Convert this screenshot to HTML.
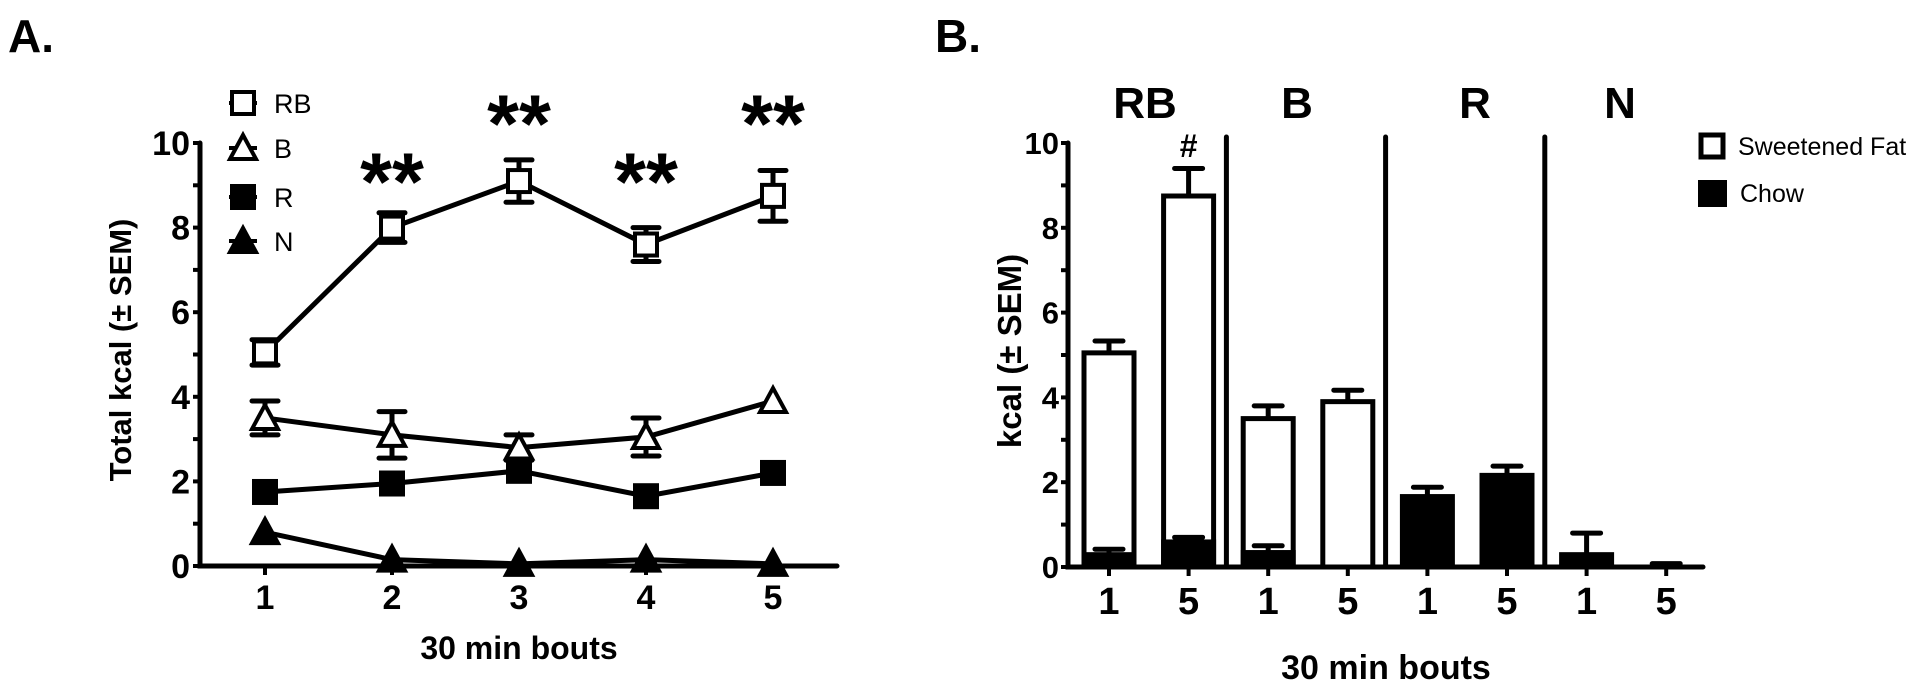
<!DOCTYPE html>
<html><head><meta charset="utf-8"><style>
html,body{margin:0;padding:0;background:#fff;width:1920px;height:690px;overflow:hidden}
svg{display:block}
text{font-family:"Liberation Sans",Arial,sans-serif;fill:#000}
</style></head><body>
<svg id="fig" width="1920" height="690" viewBox="0 0 1920 690">
<g id="panelA"></g>
<g id="panelB"></g>
</svg>
<script>
// ---------- Panel A data ----------
const boutsA = [1, 2, 3, 4, 5];
const rbMean = [5.05, 8.0, 9.1, 7.6, 8.75];
const rbErr  = [0.3, 0.35, 0.5, 0.4, 0.6];
const bMean  = [3.5, 3.1, 2.8, 3.05, 3.9];
const bErr   = [0.4, 0.55, 0.3, 0.45, 0];
const rMean  = [1.75, 1.95, 2.25, 1.65, 2.2];
const rErr   = [0, 0, 0, 0, 0];
const nMean  = [0.8, 0.15, 0.05, 0.15, 0.05];
const nErr   = [0, 0, 0, 0, 0];
const yTicksA = [0, 2, 4, 6, 8, 10];
const starBouts = [2, 3, 4, 5];
const starLevel = [0, 1, 0, 1];
// ---------- Panel B data ----------
const barLabels = ["1", "5", "1", "5", "1", "5", "1", "5"];
const groupNames = ["RB", "B", "R", "N"];
const fatTotal = [5.05, 8.75, 3.5, 3.9, 0, 0, 0, 0];
const fatErr   = [0.28, 0.65, 0.3, 0.27, 0, 0, 0, 0];
const chowVal  = [0.35, 0.65, 0.4, 0, 1.72, 2.22, 0.35, 0.05];
const chowErr  = [0.07, 0.05, 0.1, 0, 0.16, 0.16, 0.45, 0.03];
const yTicksB = [0, 2, 4, 6, 8, 10];

const NS = "http://www.w3.org/2000/svg";
function mk(tag, attrs, parent, txt) {
  const e = document.createElementNS(NS, tag);
  for (const k in attrs) e.setAttribute(k, attrs[k]);
  if (txt !== undefined) e.textContent = txt;
  parent.appendChild(e);
  return e;
}

// ===== Panel A =====
const A = document.getElementById('panelA');
const axA = {x0: 200, x1: 837, y0: 566, y10: 143};
const xA = b => 265 + (b - 1) * 127;
const yA = v => axA.y0 - v * (axA.y0 - axA.y10) / 10;

let t = mk('text', {x: 8, y: 52, 'font-size': 46, 'font-weight': 'bold'}, A, 'A.');



let ax = mk('path', {d: `M${axA.x0},${yA(10)} V${axA.y0} H${axA.x1}`, stroke: '#000', 'stroke-width': 5, fill: 'none', 'stroke-linecap': 'round'}, A);


for (let v = 0; v <= 10; v++) {
  const tk = mk('line', {x1: axA.x0 - 7, x2: axA.x0, y1: yA(v), y2: yA(v), stroke: '#000', 'stroke-width': 4}, A);
  
  
}
yTicksA.forEach(v => {
  const l = mk('text', {x: axA.x0 - 10, y: yA(v) + 12, 'font-size': 34, 'font-weight': 'bold', 'text-anchor': 'end'}, A, String(v));
  
  
});
boutsA.forEach(b => {
  const tk = mk('line', {x1: xA(b), x2: xA(b), y1: axA.y0, y2: axA.y0 + 9, stroke: '#000', 'stroke-width': 4}, A);
  
  
  const l = mk('text', {x: xA(b), y: 609, 'font-size': 34, 'font-weight': 'bold', 'text-anchor': 'middle'}, A, String(b));
  
  
});
t = mk('text', {x: 519, y: 659, 'font-size': 32, 'font-weight': 'bold', 'text-anchor': 'middle'}, A, '30 min bouts');


t = mk('text', {x: 0, y: 0, 'font-size': 31, 'font-weight': 'bold', 'text-anchor': 'middle', transform: 'translate(131,350) rotate(-90)'}, A, 'Total kcal (± SEM)');



function marker(kind, cx, cy, g) {
  const s = 11;
  if (kind === 'sq-open' || kind === 'sq-fill')
    return mk('rect', {x: cx - s, y: cy - s, width: 2 * s, height: 2 * s, fill: kind === 'sq-open' ? '#fff' : '#000', stroke: '#000', 'stroke-width': 4}, g);
  const h = 13;
  return mk('polygon', {points: `${cx},${cy - h} ${cx - h},${cy + h - 2} ${cx + h},${cy + h - 2}`, fill: kind === 'tri-open' ? '#fff' : '#000', stroke: '#000', 'stroke-width': 4, 'stroke-linejoin': 'miter'}, g);
}
const seriesA = [
  {name: 'rb', mean: rbMean, err: rbErr, kind: 'sq-open'},
  {name: 'b', mean: bMean, err: bErr, kind: 'tri-open'},
  {name: 'r', mean: rMean, err: rErr, kind: 'sq-fill'},
  {name: 'n', mean: nMean, err: nErr, kind: 'tri-fill'}
];
seriesA.slice().reverse().forEach(s => {
  const g = mk('g', {}, A);
  
  
  const d = boutsA.map((b, i) => (i ? 'L' : 'M') + xA(b) + ',' + yA(s.mean[i])).join(' ');
  mk('path', {d, stroke: '#000', 'stroke-width': 5, fill: 'none'}, g);
  boutsA.forEach((b, i) => {
    if (s.err[i] > 0) {
      const eb = mk('path', {d: `M${xA(b)},${yA(s.mean[i] - s.err[i])} V${yA(s.mean[i] + s.err[i])} M${xA(b) - 13},${yA(s.mean[i] + s.err[i])} h26 M${xA(b) - 13},${yA(s.mean[i] - s.err[i])} h26`, stroke: '#000', 'stroke-width': 5, 'stroke-linecap': 'round', fill: 'none'}, g);
      
      
    }
    const m = marker(s.kind, xA(b), yA(s.mean[i]), g);
    
    
  });
});
// legend A
const legA = [['sq-open', 'RB', 103], ['tri-open', 'B', 148], ['sq-fill', 'R', 197], ['tri-fill', 'N', 241]];
legA.forEach(([k, lab, y]) => {
  const g = mk('g', {}, A);
  
  
  mk('line', {x1: 229, x2: 257, y1: y, y2: y, stroke: '#000', 'stroke-width': 4}, g);
  marker(k, 243, y, g);
  mk('text', {x: 274, y: y + 10, 'font-size': 27}, g, lab);
});
starBouts.forEach((b, i) => {
  const s = mk('text', {x: xA(b), y: starLevel[i] ? 152 : 210, 'font-size': 82, 'font-weight': 'bold', 'text-anchor': 'middle'}, A, '**');
  
  
});

// ===== Panel B =====
const B = document.getElementById('panelB');
const axB = {x0: 1068, x1: 1703, y0: 567, y10: 143};
const xB = i => 1109 + i * 79.6;
const yB = v => axB.y0 - v * (axB.y0 - axB.y10) / 10;
const bw = 55;

t = mk('text', {x: 935, y: 52, 'font-size': 46, 'font-weight': 'bold'}, B, 'B.');



// bars
barLabels.forEach((lab, i) => {
  const g = mk('g', {}, B);
  
  
  const cx = xB(i);
  if (fatTotal[i] > 0) {
    mk('path', {d: `M${cx},${yB(fatTotal[i])} V${yB(fatTotal[i] + fatErr[i])} M${cx - 14},${yB(fatTotal[i] + fatErr[i])} h28`, stroke: '#000', 'stroke-width': 5, 'stroke-linecap': 'round'}, g);
    mk('rect', {x: cx - bw / 2 + 2.5, y: yB(fatTotal[i]), width: bw - 5, height: yB(0) - yB(fatTotal[i]), fill: '#fff', stroke: '#000', 'stroke-width': 5}, g);
  }
  if (chowVal[i] > 0) {
    mk('path', {d: `M${cx},${yB(chowVal[i])} V${yB(chowVal[i] + chowErr[i])} M${cx - 14},${yB(chowVal[i] + chowErr[i])} h28`, stroke: '#000', 'stroke-width': 5, 'stroke-linecap': 'round'}, g);
    mk('rect', {x: cx - bw / 2, y: yB(chowVal[i]), width: bw, height: yB(0) - yB(chowVal[i]), fill: '#000'}, g);
  }
});
ax = mk('path', {d: `M${axB.x0},${yB(10)} V${axB.y0} H${axB.x1}`, stroke: '#000', 'stroke-width': 5, fill: 'none', 'stroke-linecap': 'round'}, B);


for (let v = 0; v <= 10; v++) {
  const tk = mk('line', {x1: axB.x0 - 7, x2: axB.x0, y1: yB(v), y2: yB(v), stroke: '#000', 'stroke-width': 4}, B);
  
  
}
yTicksB.forEach(v => {
  const l = mk('text', {x: axB.x0 - 9, y: yB(v) + 11, 'font-size': 31, 'font-weight': 'bold', 'text-anchor': 'end'}, B, String(v));
  
  
});
barLabels.forEach((lab, i) => {
  const tk = mk('line', {x1: xB(i), x2: xB(i), y1: axB.y0, y2: axB.y0 + 9, stroke: '#000', 'stroke-width': 4}, B);
  
  
  const l = mk('text', {x: xB(i), y: 614, 'font-size': 38, 'font-weight': 'bold', 'text-anchor': 'middle'}, B, lab);
  
  
});
// separators & group labels
[1, 2, 3].forEach(k => {
  const x = (xB(2 * k - 1) + xB(2 * k)) / 2 - 2;
  const s = mk('line', {x1: x, x2: x, y1: 137, y2: 566, stroke: '#000', 'stroke-width': 5, 'stroke-linecap': 'round'}, B);
  
  
});
const groupLabelX = [1145, 1297, 1475, 1620];
groupNames.forEach((g, k) => {
  const l = mk('text', {x: groupLabelX[k], y: 118, 'font-size': 44, 'font-weight': 'bold', 'text-anchor': 'middle'}, B, g);
  
  
});
t = mk('text', {x: xB(1), y: 157, 'font-size': 32, 'font-weight': 'bold', 'text-anchor': 'middle'}, B, '#');


t = mk('text', {x: 1386, y: 679, 'font-size': 34, 'font-weight': 'bold', 'text-anchor': 'middle'}, B, '30 min bouts');


t = mk('text', {x: 0, y: 0, 'font-size': 33, 'font-weight': 'bold', 'text-anchor': 'middle', transform: 'translate(1021,351) rotate(-90)'}, B, 'kcal (± SEM)');


// legend B
let lg = mk('g', {}, B);


mk('rect', {x: 1701, y: 135, width: 22, height: 22, fill: '#fff', stroke: '#000', 'stroke-width': 5}, lg);
mk('text', {x: 1738, y: 155, 'font-size': 25}, lg, 'Sweetened Fat');
lg = mk('g', {}, B);


mk('rect', {x: 1698, y: 180, width: 29, height: 27, fill: '#000'}, lg);
mk('text', {x: 1740, y: 202, 'font-size': 25}, lg, 'Chow');
</script>
</body></html>
